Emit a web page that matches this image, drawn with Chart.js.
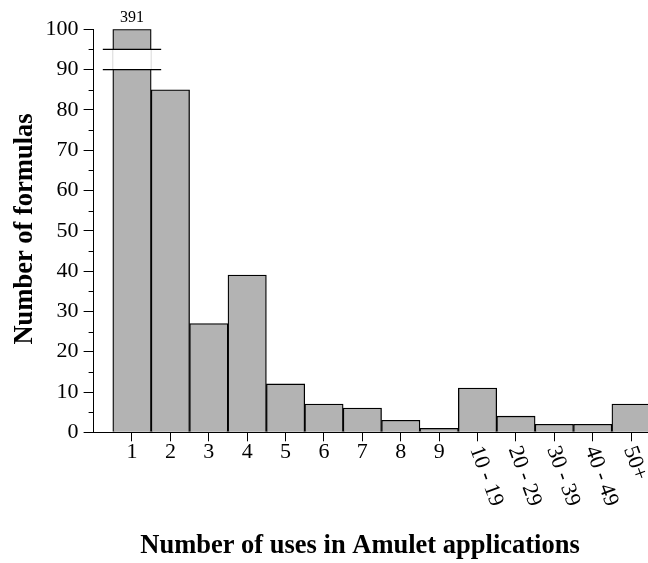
<!DOCTYPE html>
<html>
<head>
<meta charset="utf-8">
<title>Number of formulas by uses</title>
<script src="https://cdn.jsdelivr.net/npm/chart.js@4/dist/chart.umd.min.js"></script>
<style>
    html, body { margin: 0; padding: 0; background: #ffffff; }
    #wrap { width: 648px; height: 563px; position: relative; }
</style>
</head>
<body>
<div id="wrap"><canvas id="usesChart"></canvas></div>
<script>
// uses per formula (bucketed) and how many formulas fall in each bucket
const categories = ['1', '2', '3', '4', '5', '6', '7', '8', '9', '10 - 19', '20 - 29', '30 - 39', '40 - 49', '50+'];
const formulaCounts = [391, 85, 27, 39, 12, 7, 6, 3, 1, 11, 4, 2, 2, 7];
const rotatedFrom = 9; // labels from "10 - 19" on are drawn slanted
const yMax = 100;
const yStep = 10;
const yMinorStep = 5;
const axisBreak = [90, 95];

const FONT = "'Liberation Serif', 'Times New Roman', serif";
const AREA = { left: 93.6, top: 29.3, bottom: 432.3 };

const extrasPlugin = {
    id: 'extras',
    afterDatasetsDraw(chart) {
        const ctx = chart.ctx;
        const y = chart.scales.y;
        ctx.save();
        // broken bars: white gap plus the two cut marks, and the true value on top
        chart.getDatasetMeta(0).data.forEach((bar, i) => {
            if (formulaCounts[i] <= yMax) return;
            const half = bar.width / 2;
            const yTop = y.getPixelForValue(axisBreak[1]);
            const yBot = y.getPixelForValue(axisBreak[0]);
            ctx.fillStyle = '#ffffff';
            ctx.fillRect(bar.x - half - 1, yTop, bar.width + 2, yBot - yTop);
            ctx.strokeStyle = '#d9d9d9';
            ctx.lineWidth = 1;
            ctx.beginPath();
            ctx.moveTo(bar.x - half, yTop); ctx.lineTo(bar.x - half, yBot);
            ctx.moveTo(bar.x + half, yTop); ctx.lineTo(bar.x + half, yBot);
            ctx.stroke();
            ctx.strokeStyle = '#000000';
            ctx.lineWidth = 1.3;
            const ext = bar.width * 0.76;
            ctx.beginPath();
            ctx.moveTo(bar.x - ext, yTop); ctx.lineTo(bar.x + ext, yTop);
            ctx.moveTo(bar.x - ext, yBot); ctx.lineTo(bar.x + ext, yBot);
            ctx.stroke();
            ctx.fillStyle = '#000000';
            ctx.font = `16px ${FONT}`;
            ctx.textAlign = 'center';
            ctx.textBaseline = 'alphabetic';
            ctx.fillText(String(formulaCounts[i]), bar.x, y.getPixelForValue(yMax) - 7);
        });
        ctx.restore();
    },
    afterDraw(chart) {
        const ctx = chart.ctx;
        const x = chart.scales.x;
        const y = chart.scales.y;
        ctx.save();
        ctx.strokeStyle = '#000000';
        ctx.lineWidth = 1;
        // minor ticks on the y axis
        ctx.beginPath();
        for (let v = yMinorStep; v < yMax; v += yStep) {
            const py = Math.round(y.getPixelForValue(v)) + 0.5;
            ctx.moveTo(x.left - 5, py);
            ctx.lineTo(x.left, py);
        }
        ctx.stroke();

        // x tick labels
        ctx.fillStyle = '#000000';
        ctx.font = `22px ${FONT}`;
        categories.forEach((label, i) => {
            const px = x.getPixelForValue(i + 1);
            if (i < rotatedFrom) {
                ctx.textAlign = 'center';
                ctx.textBaseline = 'middle';
                ctx.fillText(label, px, 452);
            } else {
                ctx.save();
                ctx.translate(px - 2, 447);
                ctx.rotate(70 * Math.PI / 180);
                ctx.textAlign = 'left';
                ctx.textBaseline = 'middle';
                ctx.fillText(label, 0, 0);
                ctx.restore();
            }
        });

        // axis titles
        ctx.font = `bold 26.5px ${FONT}`;
        ctx.textAlign = 'center';
        ctx.textBaseline = 'alphabetic';
        ctx.fillText('Number of uses in Amulet applications', 360, 553);
        ctx.save();
        ctx.translate(32, 229);
        ctx.rotate(-Math.PI / 2);
        ctx.fillText('Number of formulas', 0, 0);
        ctx.restore();
        ctx.restore();
    }
};

const ctx = document.getElementById('usesChart').getContext('2d');
new Chart(ctx, {
    type: 'bar',
    data: {
        datasets: [{
            data: formulaCounts.map((v, i) => ({ x: i + 1, y: Math.min(v, yMax) })),
            backgroundColor: '#b3b3b3',
            borderColor: '#000000',
            borderWidth: 1.3,
            categoryPercentage: 1,
            barPercentage: 1
        }]
    },
    options: {
        responsive: true,
        maintainAspectRatio: false,
        animation: false,
        layout: { padding: { left: 0, right: 0, top: AREA.top, bottom: 0 } },
        plugins: {
            legend: { display: false },
            tooltip: { enabled: false }
        },
        scales: {
            x: {
                type: 'linear',
                min: 0,
                max: 14.44,
                offset: false,
                grid: { drawOnChartArea: false, offset: false, tickLength: 9, color: '#000000' },
                border: { display: true, color: '#000000', width: 1 },
                ticks: { display: false },
                afterBuildTicks: (scale) => {
                    scale.ticks = categories.map((_, i) => ({ value: i + 1 }));
                },
                afterFit: (scale) => {
                    scale.height = 563 - AREA.bottom;
                    scale.paddingLeft = 0;
                    scale.paddingRight = 0;
                }
            },
            y: {
                min: 0,
                max: yMax,
                grid: { drawOnChartArea: false, tickLength: 10, color: '#000000' },
                border: { display: true, color: '#000000', width: 1 },
                ticks: {
                    stepSize: yStep,
                    color: '#000000',
                    padding: 5,
                    font: { family: FONT, size: 22 }
                },
                afterFit: (scale) => {
                    scale.width = AREA.left;
                    scale.paddingTop = 0;
                    scale.paddingBottom = 0;
                }
            }
        }
    },
    plugins: [extrasPlugin]
});
</script>
</body>
</html>
